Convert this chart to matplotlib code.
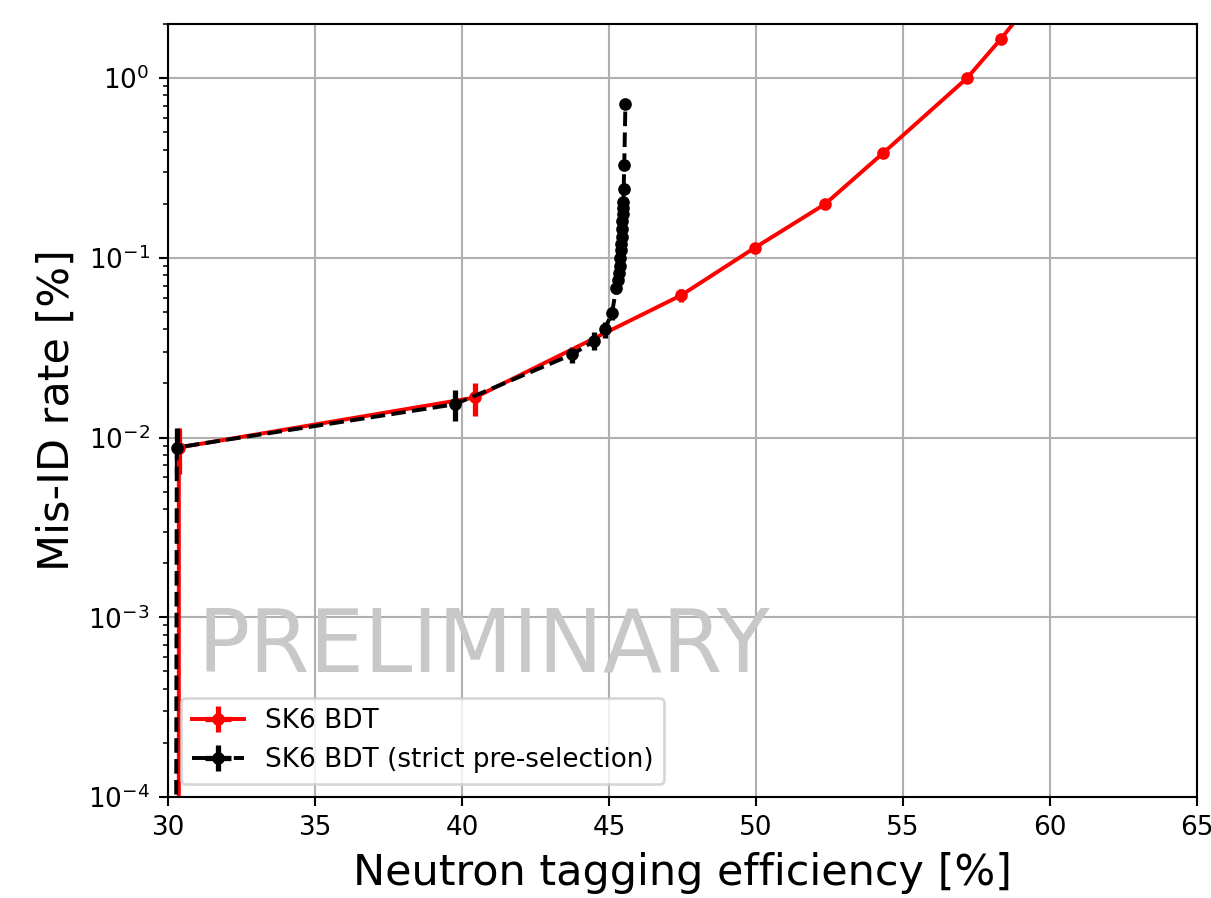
import matplotlib
matplotlib.use("Agg")
import matplotlib.pyplot as plt
import numpy as np

# SK6 BDT
eff_red = [30.37, 30.37, 40.44, 47.45, 49.97, 52.35, 54.32, 57.18, 58.33, 59.3]
mis_red = [1e-6, 0.0088, 0.0167, 0.0618, 0.114, 0.199, 0.382, 1.0, 1.65, 2.6]
err_red = [0.0, 0.0025, 0.0035, 0.005, 0.006, 0.008, 0.012, 0.025, 0.04, 0.06]

# SK6 BDT (strict pre-selection)
eff_blk = [30.26, 30.3, 39.75, 43.75, 44.5, 44.85, 45.1, 45.25, 45.3, 45.33, 45.36,
           45.38, 45.4, 45.42, 45.44, 45.45, 45.46, 45.47, 45.48, 45.49, 45.5,
           45.52, 45.56]
mis_blk = [1e-6, 0.0088, 0.0153, 0.029, 0.0345, 0.040, 0.049, 0.068, 0.075, 0.082, 0.09,
           0.10, 0.11, 0.12, 0.13, 0.145, 0.16, 0.175, 0.19, 0.205, 0.24,
           0.33, 0.72]
err_blk = [0.0, 0.0025, 0.003, 0.003, 0.004, 0.004, 0.004, 0.005, 0.005, 0.005, 0.006,
           0.006, 0.007, 0.007, 0.008, 0.008, 0.009, 0.009, 0.01, 0.01, 0.012,
           0.015, 0.03]

dpi = 1211 / 6.4
fig, ax = plt.subplots(figsize=(6.4, 898 / dpi), dpi=dpi)
fig.subplots_adjust(left=0.1387, right=0.9884, bottom=0.1125, top=0.9733)

ax.errorbar(eff_red, mis_red, yerr=err_red, xerr=0.12, fmt='o-', color='red',
            markersize=3.8, elinewidth=2, label='SK6 BDT')
ax.errorbar(eff_blk, mis_blk, yerr=err_blk, xerr=0.12, fmt='o--', color='black',
            markersize=3.8, elinewidth=2, label='SK6 BDT (strict pre-selection)')

ax.set_yscale('log')
ax.set_xlim(30, 65)
ax.set_ylim(1e-4, 2)
ax.grid(True)

ax.text(0.029, 0.193, 'PRELIMINARY', transform=ax.transAxes, fontsize=33,
        color='#c8c8c8', ha='left', va='center')

ax.set_xlabel('Neutron tagging efficiency [%]', fontsize=16.4)
ax.set_ylabel('Mis-ID rate [%]', fontsize=16.4)
ax.legend(loc='lower left')

plt.savefig('out.png', dpi=dpi)
